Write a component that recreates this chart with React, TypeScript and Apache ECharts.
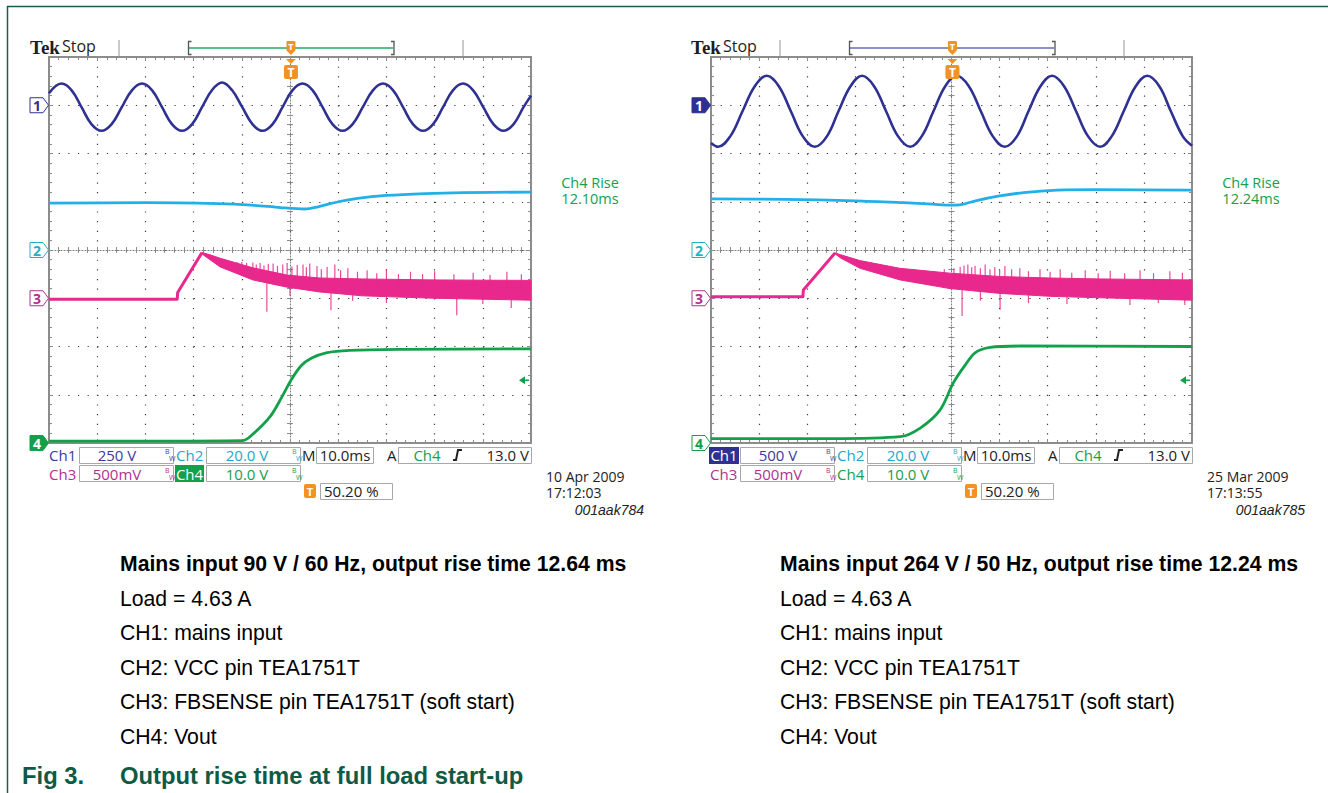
import React, { useEffect, useRef } from "react";
import * as echarts from "echarts";

// ---------- data (time in ms, 10 ms/div; values in screen divisions, -4..4) ----------
const TRIG_MS = 50.2;
const GROUNDS = [3, 0, -1, -4]; // channel ground markers 1..4
const CH4_GROUND = -4;
const CH4_VDIV = 10;
const TRIG_V = 13;

const L_CH1 = [[0, 3.25], [2.6, 3.45], [4.7, 3.31], [6.75, 2.96], [8.8, 2.61], [10.9, 2.47], [13.0, 2.61], [15.1, 2.96], [17.2, 3.31], [19.3, 3.45], [21.4, 3.31], [23.45, 2.96], [25.5, 2.61], [27.6, 2.47], [29.7, 2.61], [31.75, 2.96], [33.8, 3.31], [35.9, 3.47], [38.0, 3.31], [40.1, 2.96], [42.2, 2.61], [44.3, 2.47], [46.4, 2.61], [48.45, 2.96], [50.5, 3.31], [52.6, 3.45], [54.7, 3.31], [56.75, 2.96], [58.8, 2.61], [60.9, 2.47], [63.0, 2.61], [65.1, 2.96], [67.2, 3.31], [69.3, 3.45], [71.4, 3.31], [73.45, 2.96], [75.5, 2.61], [77.6, 2.47], [79.7, 2.61], [81.75, 2.96], [83.8, 3.31], [85.9, 3.45], [88.0, 3.31], [90.1, 2.96], [92.2, 2.61], [94.3, 2.47], [96.4, 2.61], [98.45, 2.96], [100, 3.2]];
const L_CH2 = [[0, 0.97], [20, 0.98], [35, 0.96], [42, 0.93], [48, 0.88], [53, 0.85], [56, 0.9], [60, 1.0], [64, 1.07], [70, 1.13], [78, 1.17], [86, 1.19], [100, 1.2]];
const L_CH3_PRE = [[0, -1.02], [26.6, -1.02], [26.7, -0.88], [31.7, -0.06]];
const L_CH3_UP = [[31.7, -0.05], [33.4, -0.1], [35.5, -0.17], [42.3, -0.37], [49.4, -0.52], [56.2, -0.58], [65, -0.6], [80, -0.62], [100, -0.63]];
const L_CH3_LO = [[31.7, -0.08], [33.4, -0.2], [35.5, -0.35], [42.3, -0.62], [49.4, -0.77], [56.2, -0.87], [65, -0.95], [80, -1.0], [100, -1.04]];
const L_CH3_SPIKES = [[36.5, -0.25, -0.2], [37.2, -0.3, -0.22], [38, -0.3, -0.24], [39, -0.35, -0.25], [40, -0.35, -0.25], [41, -0.4, -0.27], [42.3, -0.45, -0.26], [43, -0.45, -0.3], [43.8, -0.5, -0.27], [44.6, -0.5, -0.32], [45.5, -0.5, -0.29], [46.5, -0.55, -0.28], [47.4, -0.55, -0.33], [48.5, -0.55, -0.3], [49.4, -0.6, -0.27], [50.4, -0.6, -0.34], [51.5, -0.6, -0.31], [52.7, -0.62, -0.3], [53.4, -0.62, -0.36], [54.1, -0.65, -0.28], [55.6, -0.65, -0.33], [56.5, -0.65, -0.4], [57.7, -0.7, -0.35], [59.3, -0.7, -0.3], [60.5, -0.7, -0.42], [62, -0.75, -0.38], [64, -0.75, -0.45], [66, -0.75, -0.42], [68, -0.75, -0.48], [70, -0.8, -0.4], [72.5, -0.8, -0.5], [75, -0.8, -0.45], [77.5, -0.8, -0.5], [80, -0.8, -0.44], [84, -0.8, -0.5], [88, -0.8, -0.47], [91.5, -0.8, -0.52], [95, -0.8, -0.45], [98, -0.8, -0.5],
  [45.2, -0.6, -1.28], [50, -0.7, -0.95], [58.5, -0.75, -1.25], [63, -0.8, -1.05], [70, -0.85, -1.1], [84.6, -0.8, -1.35], [90, -0.9, -1.12], [95.9, -0.85, -1.2]];
const L_CH4 = [[0, -3.96], [20, -3.96], [40.2, -3.95], [42.7, -3.78], [45.9, -3.45], [48.3, -3.05], [50.2, -2.7], [52.3, -2.4], [54.5, -2.24], [57.5, -2.13], [62.4, -2.08], [72.8, -2.06], [100, -2.05]];

const R_CH1 = [[0, 2.22], [1.5, 2.14], [4.0, 2.355], [6.55, 2.875], [9.1, 3.395], [11.6, 3.61], [14.1, 3.395], [16.6, 2.875], [19.1, 2.355], [21.6, 2.14], [24.1, 2.355], [26.5, 2.875], [29.0, 3.395], [31.4, 3.61], [33.9, 3.395], [36.4, 2.875], [38.9, 2.355], [41.4, 2.14], [43.8, 2.355], [46.25, 2.875], [48.7, 3.395], [51.1, 3.61], [53.6, 3.395], [56.1, 2.875], [58.6, 2.355], [61.1, 2.14], [63.6, 2.355], [66.0, 2.875], [68.5, 3.395], [70.9, 3.61], [73.4, 3.395], [75.9, 2.875], [78.4, 2.355], [80.9, 2.14], [83.3, 2.355], [85.8, 2.875], [88.3, 3.395], [90.7, 3.61], [93.2, 3.395], [95.6, 2.875], [98.1, 2.355], [100, 2.16]];
const R_CH2 = [[0, 1.06], [15, 1.05], [30, 1.02], [40, 0.98], [46, 0.95], [50, 0.93], [52, 0.94], [55, 1.02], [60, 1.12], [65, 1.19], [72, 1.24], [80, 1.25], [100, 1.24]];
const R_CH3_PRE = [[0, -0.97], [19.1, -0.97], [19.2, -0.83], [25.8, -0.06]];
const R_CH3_UP = [[25.8, -0.06], [27, -0.1], [31, -0.22], [39.3, -0.38], [49.7, -0.48], [60.1, -0.55], [70.5, -0.58], [80.9, -0.6], [100, -0.62]];
const R_CH3_LO = [[25.8, -0.08], [27, -0.17], [31, -0.38], [39.3, -0.62], [49.7, -0.8], [60.1, -0.9], [70.5, -0.96], [80.9, -0.99], [100, -1.04]];
const R_CH3_SPIKES = [[48.5, -0.55, -0.4], [50.5, -0.6, -0.38], [51.8, -0.6, -0.35], [52.6, -0.6, -0.32], [53.4, -0.6, -0.3], [54.2, -0.6, -0.36], [54.9, -0.6, -0.33], [56, -0.65, -0.38], [57, -0.65, -0.3], [58, -0.65, -0.4], [59, -0.65, -0.36], [60, -0.7, -0.42], [61.1, -0.7, -0.33], [62.5, -0.7, -0.4], [64.2, -0.7, -0.38], [66, -0.75, -0.44], [68.4, -0.75, -0.4], [70.5, -0.75, -0.45], [72.6, -0.75, -0.4], [75, -0.8, -0.47], [77.8, -0.8, -0.42], [80.5, -0.8, -0.48], [83, -0.8, -0.43], [86, -0.8, -0.48], [89.2, -0.8, -0.42], [92, -0.8, -0.48], [95.4, -0.8, -0.44], [98, -0.8, -0.47],
  [52.2, -0.7, -1.37], [56, -0.8, -1.05], [60.1, -0.8, -1.24], [66, -0.9, -1.1], [74, -0.9, -1.12], [87.1, -0.85, -1.14], [93, -0.9, -1.1], [98.5, -0.85, -1.14]];
const R_CH4 = [[0, -3.91], [25, -3.91], [39.3, -3.87], [43.5, -3.69], [47.6, -3.32], [50.4, -2.75], [52.8, -2.39], [54.9, -2.13], [58, -2.02], [64.2, -1.99], [100, -2.0]];

// ---------- texts ----------
const CAPTION_LEFT = ["Mains input 90 V / 60 Hz, output rise time 12.64 ms", "Load = 4.63 A", "CH1: mains input", "CH2: VCC pin TEA1751T", "CH3: FBSENSE pin TEA1751T (soft start)", "CH4: Vout"];
const CAPTION_RIGHT = ["Mains input 264 V / 50 Hz, output rise time 12.24 ms", "Load = 4.63 A", "CH1: mains input", "CH2: VCC pin TEA1751T", "CH3: FBSENSE pin TEA1751T (soft start)", "CH4: Vout"];
const FIG_LABEL = "Fig 3.";
const FIG_TITLE = "Output rise time at full load start-up";

const C1 = "#2e3192", C2 = "#22b0e8", C3 = "#e8288c", C4 = "#12a04a";
const T1 = "#3a3a9c", T2 = "#22a8c6", T3 = "#b0318f", T4 = "#14a04e";
const ORANGE = "#f39223";
const BORDER = "#8c8c8c";
const SCOPE_FONT = '"Open Sans", "DejaVu Sans", sans-serif';
const ARIAL = '"Liberation Sans", Arial, sans-serif';

const PANELS = [
  { left: 49, width: 482, dx: 0, ch1: L_CH1, ch2: L_CH2, pre: L_CH3_PRE, up: L_CH3_UP, lo: L_CH3_LO, spikes: L_CH3_SPIKES, ch4: L_CH4,
    filled: 3, ch1scale: "250 V", rise: "12.10ms", date: "10 Apr 2009", time: "17:12:03", id: "001aak784", bar: "#56c08a" },
  { left: 711, width: 481, dx: 661, ch1: R_CH1, ch2: R_CH2, pre: R_CH3_PRE, up: R_CH3_UP, lo: R_CH3_LO, spikes: R_CH3_SPIKES, ch4: R_CH4,
    filled: 0, ch1scale: "500 V", rise: "12.24ms", date: "25 Mar 2009", time: "17:13:55", id: "001aak785", bar: "#8a90c8" },
];

function txt(x: number, y: number, text: string, fill: string, font: string, align = "left", valign = "middle") {
  return { type: "text", x, y, silent: true, style: { text, fill, font, textAlign: align, textVerticalAlign: valign, align, verticalAlign: valign } };
}
function rect(x: number, y: number, w: number, h: number, fill: string, stroke?: string, r = 0) {
  return { type: "rect", silent: true, shape: { x, y, width: w, height: h, r }, style: { fill, stroke: stroke || "none", lineWidth: 1 } };
}
function bw(x: number, y: number, c: string) {
  return [txt(x, y - 4, "B", c, `7px ${SCOPE_FONT}`), txt(x + 4, y + 3.5, "W", c, `7px ${SCOPE_FONT}`)];
}

function panelGraphics(p: any) {
  const d = p.dx;
  const f16 = `16px ${SCOPE_FONT}`;
  const f15 = `15px ${SCOPE_FONT}`;
  const els: any[] = [];
  els.push(txt(30 + d, 47, "Tek", "#1e1e1e", 'bold 19px "Liberation Serif", serif'));
  els.push(txt(62 + d, 46, "Stop", "#1e1e1e", f16));
  els.push(rect(118 + d, 40, 2, 17, "#cacaca"));
  els.push(rect(462 + d, 40, 2, 17, "#cacaca"));
  els.push({ type: "line", silent: true, shape: { x1: 189 + d, y1: 48, x2: 393 + d, y2: 48 }, style: { stroke: p.bar, lineWidth: 2 } });
  els.push({ type: "polyline", silent: true, shape: { points: [[191.5 + d, 41.5], [188.5 + d, 41.5], [188.5 + d, 54.5], [191.5 + d, 54.5]] }, style: { stroke: "#555", lineWidth: 1.3, fill: "none" } });
  els.push({ type: "polyline", silent: true, shape: { points: [[391 + d, 41.5], [394 + d, 41.5], [394 + d, 54.5], [391 + d, 54.5]] }, style: { stroke: "#555", lineWidth: 1.3, fill: "none" } });

  const y1 = 455, y2 = 474, y3 = 491;
  if (p.filled === 0) {
    els.push(rect(48 + d, 447, 30, 17, C1));
    els.push(txt(63 + d, y1, "Ch1", "#fff", f15, "center"));
  } else {
    els.push(txt(49 + d, y1, "Ch1", T1, f15));
  }
  els.push(rect(79.5 + d, 447.5, 94, 16, "#fff", "#a8a8a8"));
  els.push(txt(117 + d, y1, p.ch1scale, T1, f15, "center"));
  els.push(...bw(165 + d, y1, T1));
  els.push(txt(176 + d, y1, "Ch2", T2, f15));
  els.push(rect(206.5 + d, 447.5, 94, 16, "#fff", "#a8a8a8"));
  els.push(txt(247 + d, y1, "20.0 V", T2, f15, "center"));
  els.push(...bw(292 + d, y1, T2));
  els.push(txt(302 + d, y1, "M", "#222", f15));
  els.push(rect(316.5 + d, 447.5, 57, 16, "#fff", "#a8a8a8"));
  els.push(txt(345 + d, y1, "10.0ms", "#222", f15, "center"));
  els.push(txt(387 + d, y1, "A", "#222", f15));
  els.push(rect(398.5 + d, 447.5, 133, 16, "#fff", "#a8a8a8"));
  els.push(txt(427 + d, y1, "Ch4", T4, f15, "center"));
  els.push({ type: "polyline", silent: true, shape: { points: [[453 + d, y1 + 5], [456 + d, y1 + 5], [458 + d, y1 - 5], [462 + d, y1 - 5]] }, style: { stroke: "#222", lineWidth: 2, fill: "none" } });
  els.push(txt(529 + d, y1, "13.0 V", "#222", f15, "right"));
  els.push(txt(49 + d, y2, "Ch3", T3, f15));
  els.push(rect(79.5 + d, 465.5, 94, 16, "#fff", "#a8a8a8"));
  els.push(txt(117 + d, y2, "500mV", T3, f15, "center"));
  els.push(...bw(165 + d, y2, T3));
  if (p.filled === 3) {
    els.push(rect(175 + d, 465, 29, 17, C4));
    els.push(txt(189.5 + d, y2, "Ch4", "#fff", f15, "center"));
  } else {
    els.push(txt(176 + d, y2, "Ch4", T4, f15));
  }
  els.push(rect(206.5 + d, 465.5, 94, 16, "#fff", "#a8a8a8"));
  els.push(txt(247 + d, y2, "10.0 V", T4, f15, "center"));
  els.push(...bw(292 + d, y2, T4));
  els.push(rect(304 + d, 484, 12, 14, ORANGE, undefined, 2));
  els.push(txt(310 + d, y3 + 0.5, "T", "#fff", `bold 11px ${SCOPE_FONT}`, "center"));
  els.push(rect(320.5 + d, 483.5, 72, 16, "#fff", "#a8a8a8"));
  els.push(txt(324 + d, y3, "50.20 %", "#222", f15));
  els.push(txt(546 + d, 476, p.date, "#222", `14px ${SCOPE_FONT}`));
  els.push(txt(546 + d, 492.5, p.time, "#222", `14px ${SCOPE_FONT}`));
  els.push(txt(644 + d, 510, p.id, "#222", `italic 14px ${ARIAL}`, "right"));
  els.push(txt(590 + d, 182, "Ch4 Rise", T4, `14.5px ${SCOPE_FONT}`, "center"));
  els.push(txt(590 + d, 198.5, p.rise, T4, `14.5px ${SCOPE_FONT}`, "center"));
  return els;
}

function captionGraphics() {
  const els: any[] = [];
  const ys = [563, 598, 632, 667, 701, 736];
  [CAPTION_LEFT, CAPTION_RIGHT].forEach((lines, k) => {
    const x = k === 0 ? 120 : 780;
    lines.forEach((s, i) => {
      els.push(txt(x, ys[i], s, "#000", `${i === 0 ? "bold " : ""}21.2px ${ARIAL}`));
    });
  });
  els.push(txt(22, 775, FIG_LABEL, "#0f5a45", `bold 23.8px ${ARIAL}`));
  els.push(txt(120, 775, FIG_TITLE, "#0f5a45", `bold 23.8px ${ARIAL}`));
  els.push({ type: "line", silent: true, shape: { x1: 7, y1: 6.5, x2: 1328, y2: 6.5 }, style: { stroke: "#1d5a48", lineWidth: 1.5 } });
  els.push({ type: "line", silent: true, shape: { x1: 7.5, y1: 6, x2: 7.5, y2: 793 }, style: { stroke: "#1d5a48", lineWidth: 1.5 } });
  return els;
}

function axesFor(g: number, width: number) {
  const tickStyle = { color: BORDER, width: 1 };
  const bx = { type: "value", gridIndex: g, min: 0, max: 100, interval: 10, axisLabel: { show: false }, splitLine: { show: false } };
  const by = { type: "value", gridIndex: g, min: -4, max: 4, interval: 1, axisLabel: { show: false }, splitLine: { show: false } };
  const dots = { show: true, lineStyle: { type: [1.2, 8.45], color: "#3a3a3a", width: 1.2 } };
  const border = { onZero: false, lineStyle: { color: BORDER, width: 2 } };
  const centerLine = { onZero: false, lineStyle: { color: "#7a7a7a", width: 1, type: [1, 2] } };
  const minor = { show: true, splitNumber: 5, length: 3, lineStyle: tickStyle };
  const x = [
    { ...bx, position: "bottom", axisLine: border, axisTick: { inside: true, length: 4, lineStyle: tickStyle }, minorTick: minor, splitLine: dots },
    { ...bx, position: "top", axisLine: border, axisTick: { inside: true, length: 4, lineStyle: tickStyle }, minorTick: minor },
    { ...bx, position: "bottom", offset: -193, axisLine: centerLine, axisTick: { inside: true, length: 3, lineStyle: tickStyle }, minorTick: minor },
    { ...bx, position: "bottom", offset: -193, axisLine: { show: false, onZero: false }, axisTick: { inside: false, length: 3, lineStyle: tickStyle }, minorTick: minor },
  ];
  const y = [
    { ...by, position: "left", axisLine: border, axisTick: { inside: true, length: 4, lineStyle: tickStyle }, minorTick: minor, splitLine: dots },
    { ...by, position: "right", axisLine: border, axisTick: { inside: true, length: 4, lineStyle: tickStyle }, minorTick: minor },
    { ...by, position: "left", offset: -width / 2, axisLine: centerLine, axisTick: { inside: true, length: 3, lineStyle: tickStyle }, minorTick: minor },
    { ...by, position: "left", offset: -width / 2, axisLine: { show: false, onZero: false }, axisTick: { inside: false, length: 3, lineStyle: tickStyle }, minorTick: minor },
  ];
  return { x, y };
}

const MARK_FILL = [C1, "#23b0c4", "#b0318f", C4];

function seriesFor(p: any, g: number) {
  const ax = { xAxisIndex: 4 * g, yAxisIndex: 4 * g };
  const line = (data: number[][], color: string, width: number, smooth: number | boolean) => ({
    type: "line", ...ax, data, symbol: "none", smooth, silent: true,
    lineStyle: { color, width, join: "round" }, z: 3,
  });
  return [
    line(p.ch1, C1, 2.6, 0.4),
    line(p.ch2, C2, 2.8, 0.3),
    {
      type: "custom", ...ax, silent: true, z: 3, data: [[50, 0]],
      renderItem: (_params: any, api: any) => {
        const pts = p.up.map((q: number[]) => api.coord(q)).concat(p.lo.slice().reverse().map((q: number[]) => api.coord(q)));
        return { type: "polygon", shape: { points: pts }, style: { fill: C3, stroke: C3, lineWidth: 1 } };
      },
    },
    {
      type: "custom", ...ax, silent: true, z: 3, data: p.spikes, encode: { x: 0, y: [1, 2] },
      renderItem: (_params: any, api: any) => {
        const a = api.coord([api.value(0), api.value(1)]);
        const b = api.coord([api.value(0), api.value(2)]);
        return { type: "line", shape: { x1: a[0], y1: a[1], x2: b[0], y2: b[1] }, style: { stroke: C3, lineWidth: 1.2, opacity: 0.85 } };
      },
    },
    line(p.pre, C3, 3, false),
    line(p.ch4, C4, 2.8, 0.3),
    {
      type: "custom", ...ax, silent: true, z: 5, clip: false, data: GROUNDS.map((gr, i) => [0, gr, i]), encode: { x: 0, y: 1 },
      renderItem: (_params: any, api: any) => {
        const i = api.value(2);
        const [px, py] = api.coord([0, api.value(1)]);
        const filled = i === p.filled;
        const col = MARK_FILL[i];
        return {
          type: "group", children: [
            { type: "polygon", shape: { points: [[px - 19, py - 7.5], [px - 6, py - 7.5], [px - 0.5, py], [px - 6, py + 7.5], [px - 19, py + 7.5]] }, style: { fill: filled ? col : "#fff", stroke: col, lineWidth: 1 } },
            { type: "text", style: { text: String(i + 1), x: px - 12, y: py + 0.5, fill: filled ? "#fff" : col, font: `bold 14px ${SCOPE_FONT}`, textAlign: "center", textVerticalAlign: "middle", align: "center", verticalAlign: "middle" } },
          ],
        };
      },
    },
    {
      type: "custom", ...ax, silent: true, z: 5, clip: false, data: [[TRIG_MS, 4]], encode: { x: 0, y: 1 },
      renderItem: (_params: any, api: any) => {
        const [tx, ty] = api.coord([api.value(0), api.value(1)]);
        return {
          type: "group", children: [
            { type: "rect", shape: { x: tx - 4.5, y: ty - 16, width: 9, height: 10, r: 1 }, style: { fill: ORANGE } },
            { type: "polygon", shape: { points: [[tx - 4, ty - 6], [tx + 4, ty - 6], [tx, ty - 2]] }, style: { fill: ORANGE } },
            { type: "text", style: { text: "T", x: tx, y: ty - 10.5, fill: "#fff", font: `bold 9px ${SCOPE_FONT}`, textAlign: "center", textVerticalAlign: "middle", align: "center", verticalAlign: "middle" } },
            { type: "polygon", shape: { points: [[tx - 5, ty + 2], [tx + 5, ty + 2], [tx, ty + 7]] }, style: { fill: ORANGE } },
            { type: "rect", shape: { x: tx - 7, y: ty + 8, width: 14, height: 14, r: 2 }, style: { fill: ORANGE } },
            { type: "text", style: { text: "T", x: tx, y: ty + 15.5, fill: "#fff", font: `bold 12px ${SCOPE_FONT}`, textAlign: "center", textVerticalAlign: "middle", align: "center", verticalAlign: "middle" } },
          ],
        };
      },
    },
    {
      type: "custom", ...ax, silent: true, z: 5, clip: false, data: [[100, CH4_GROUND + TRIG_V / CH4_VDIV]], encode: { x: 0, y: 1 },
      renderItem: (_params: any, api: any) => {
        const [px, py] = api.coord([api.value(0), api.value(1)]);
        return {
          type: "group", children: [
            { type: "polygon", shape: { points: [[px - 12, py], [px - 6, py - 4], [px - 6, py + 4]] }, style: { fill: C4 } },
            { type: "line", shape: { x1: px - 7, y1: py, x2: px - 2, y2: py }, style: { stroke: C4, lineWidth: 1.5 } },
          ],
        };
      },
    },
  ];
}

export default function App() {
  const ref = useRef<HTMLDivElement>(null);
  useEffect(() => {
    if (!ref.current) return;
    const chart = echarts.init(ref.current, undefined, { renderer: "svg" });
    const xs: any[] = [];
    const ys: any[] = [];
    PANELS.forEach((p, g) => {
      const a = axesFor(g, p.width);
      xs.push(...a.x);
      ys.push(...a.y);
    });
    const graphics: any[] = [];
    PANELS.forEach((p) => graphics.push(...panelGraphics(p)));
    graphics.push(...captionGraphics());
    chart.setOption({
      animation: false,
      backgroundColor: "#fff",
      grid: PANELS.map((p) => ({ left: p.left, top: 57, width: p.width, height: 386, show: false })),
      xAxis: xs,
      yAxis: ys,
      series: PANELS.flatMap((p, g) => seriesFor(p, g)),
      graphic: { elements: graphics },
    });
    return () => chart.dispose();
  }, []);
  return <div ref={ref} style={{ position: "absolute", left: 0, top: 0, width: 1328, height: 793, background: "#fff" }} />;
}
